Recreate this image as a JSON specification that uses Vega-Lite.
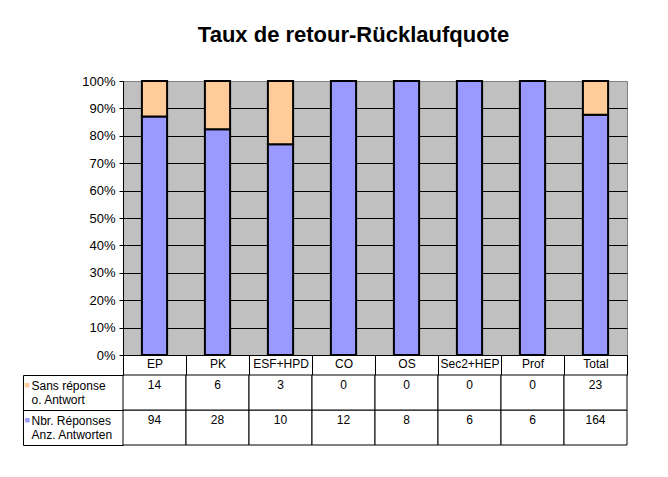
{
  "$schema": "https://vega.github.io/schema/vega-lite/v6.json",
  "padding": {"left": 22, "top": 23, "right": 5, "bottom": 5},
  "background": "white",
  "config": {"font": "Liberation Sans", "view": {"stroke": null}},
  "datasets": {
    "responses": [
      {"category": "EP", "series": "Nbr. Réponses", "count": 94},
      {"category": "EP", "series": "Sans réponse", "count": 14},
      {"category": "PK", "series": "Nbr. Réponses", "count": 28},
      {"category": "PK", "series": "Sans réponse", "count": 6},
      {"category": "ESF+HPD", "series": "Nbr. Réponses", "count": 10},
      {"category": "ESF+HPD", "series": "Sans réponse", "count": 3},
      {"category": "CO", "series": "Nbr. Réponses", "count": 12},
      {"category": "CO", "series": "Sans réponse", "count": 0},
      {"category": "OS", "series": "Nbr. Réponses", "count": 8},
      {"category": "OS", "series": "Sans réponse", "count": 0},
      {"category": "Sec2+HEP", "series": "Nbr. Réponses", "count": 6},
      {"category": "Sec2+HEP", "series": "Sans réponse", "count": 0},
      {"category": "Prof", "series": "Nbr. Réponses", "count": 6},
      {"category": "Prof", "series": "Sans réponse", "count": 0},
      {"category": "Total", "series": "Nbr. Réponses", "count": 164},
      {"category": "Total", "series": "Sans réponse", "count": 23}
    ]
  },
  "bounds": "flush",
  "spacing": 20,
  "vconcat": [
    {
      "title": {"text": "Taux de retour-Rücklaufquote", "fontSize": 22, "fontWeight": "bold", "font": "Liberation Sans", "color": "black", "anchor": "middle", "dx": -21.5, "offset": 11, "baseline": "alphabetic"},
      "width": 504,
      "height": 274,
      "view": {"fill": "#C0C0C0", "stroke": "#808080", "strokeWidth": 1},
      "data": {"name": "responses"},
      "mark": {"type": "bar", "stroke": "black", "strokeWidth": 2, "width": {"band": 0.4}},
      "encoding": {
        "x": {
          "field": "category", "type": "nominal",
          "sort": ["EP", "PK", "ESF+HPD", "CO", "OS", "Sec2+HEP", "Prof", "Total"],
          "scale": {"paddingInner": 0, "paddingOuter": 0},
          "axis": {"title": null, "orient": "bottom", "domain": true, "domainColor": "black", "ticks": true, "tickBand": "extent", "tickSize": 20, "tickColor": "black", "labelAngle": 0, "labelFontSize": 12, "labelColor": "black", "labelBaseline": "alphabetic", "labelPadding": -8, "labelAlign": "center"}
        },
        "y": {
          "field": "count", "type": "quantitative", "stack": "normalize",
          "scale": {"domain": [0, 1]},
          "axis": {"title": null, "values": [0, 0.1, 0.2, 0.3, 0.4, 0.5, 0.6, 0.7, 0.8, 0.9, 1], "format": ".0%", "grid": true,
            "gridColor": {"condition": {"test": "datum.value >= 1", "value": "#808080"}, "value": "black"},
            "gridWidth": 1, "gridOpacity": 1, "domainColor": "black", "tickColor": "black", "tickSize": 4, "labelFontSize": 13, "labelColor": "black", "labelPadding": 4}
        },
        "color": {
          "field": "series", "type": "nominal",
          "scale": {"domain": ["Nbr. Réponses", "Sans réponse"], "range": ["#9999FF", "#FFCC99"]},
          "legend": null
        },
        "order": {"field": "series", "sort": "ascending"}
      }
    },
    {
      "width": 504,
      "height": 70,
      "data": {"name": "responses"},
      "resolve": {"scale": {"y": "independent"}, "axis": {"y": "independent"}},
      "layer": [
        {
          "mark": {"type": "rect", "fill": "white", "stroke": "black", "strokeWidth": 1},
          "encoding": {
            "x": {"field": "category", "type": "nominal", "sort": ["EP", "PK", "ESF+HPD", "CO", "OS", "Sec2+HEP", "Prof", "Total"], "scale": {"paddingInner": 0, "paddingOuter": 0}, "axis": null},
            "y": {
              "field": "series", "type": "nominal", "sort": ["Sans réponse", "Nbr. Réponses"],
              "scale": {"paddingInner": 0, "paddingOuter": 0},
              "axis": {"orient": "left", "title": null, "domain": false, "ticks": true, "tickBand": "extent", "tickSize": 100, "tickColor": "black", "tickWidth": 1, "labels": false}
            }
          }
        },
        {
          "mark": {"type": "text", "fontSize": 12, "dy": -4, "baseline": "alphabetic", "color": "black"},
          "encoding": {
            "x": {"field": "category", "type": "nominal", "sort": ["EP", "PK", "ESF+HPD", "CO", "OS", "Sec2+HEP", "Prof", "Total"], "scale": {"paddingInner": 0, "paddingOuter": 0}, "axis": null},
            "y": {
              "field": "series", "type": "nominal", "sort": ["Sans réponse", "Nbr. Réponses"],
              "scale": {"paddingInner": 0, "paddingOuter": 0},
              "axis": {"orient": "left", "title": null, "domain": false, "ticks": false, "labelAlign": "left", "labelBaseline": "alphabetic", "labelPadding": 92, "labelOffset": -3.5, "labelFontSize": 12, "labelColor": "black", "labelLineHeight": 14, "labelOverlap": false,
                "labelExpr": "datum.value === 'Sans réponse' ? ['Sans réponse', 'o. Antwort'] : ['Nbr. Réponses', 'Anz. Antworten']"}
            },
            "text": {"field": "count", "type": "quantitative"}
          }
        },
        {
          "mark": {"type": "rect", "opacity": 0},
          "encoding": {
            "x": {"field": "category", "type": "nominal", "sort": ["EP", "PK", "ESF+HPD", "CO", "OS", "Sec2+HEP", "Prof", "Total"], "scale": {"paddingInner": 0, "paddingOuter": 0}, "axis": null},
            "y": {
              "field": "series", "type": "nominal", "sort": ["Sans réponse", "Nbr. Réponses"],
              "scale": {"paddingInner": 0, "paddingOuter": 0},
              "axis": {"orient": "left", "offset": 100, "title": null, "domain": true, "domainColor": "black", "domainWidth": 1, "ticks": false, "labelAlign": "left", "labelBaseline": "middle", "labelPadding": -1, "labelOffset": -8, "labelFontSize": 9, "labelOverlap": false, "labelExpr": "'■'",
                "labelColor": {"condition": {"test": "datum.value === 'Sans réponse'", "value": "#FFCC99"}, "value": "#9999FF"}}
            }
          }
        }
      ]
    }
  ]
}
